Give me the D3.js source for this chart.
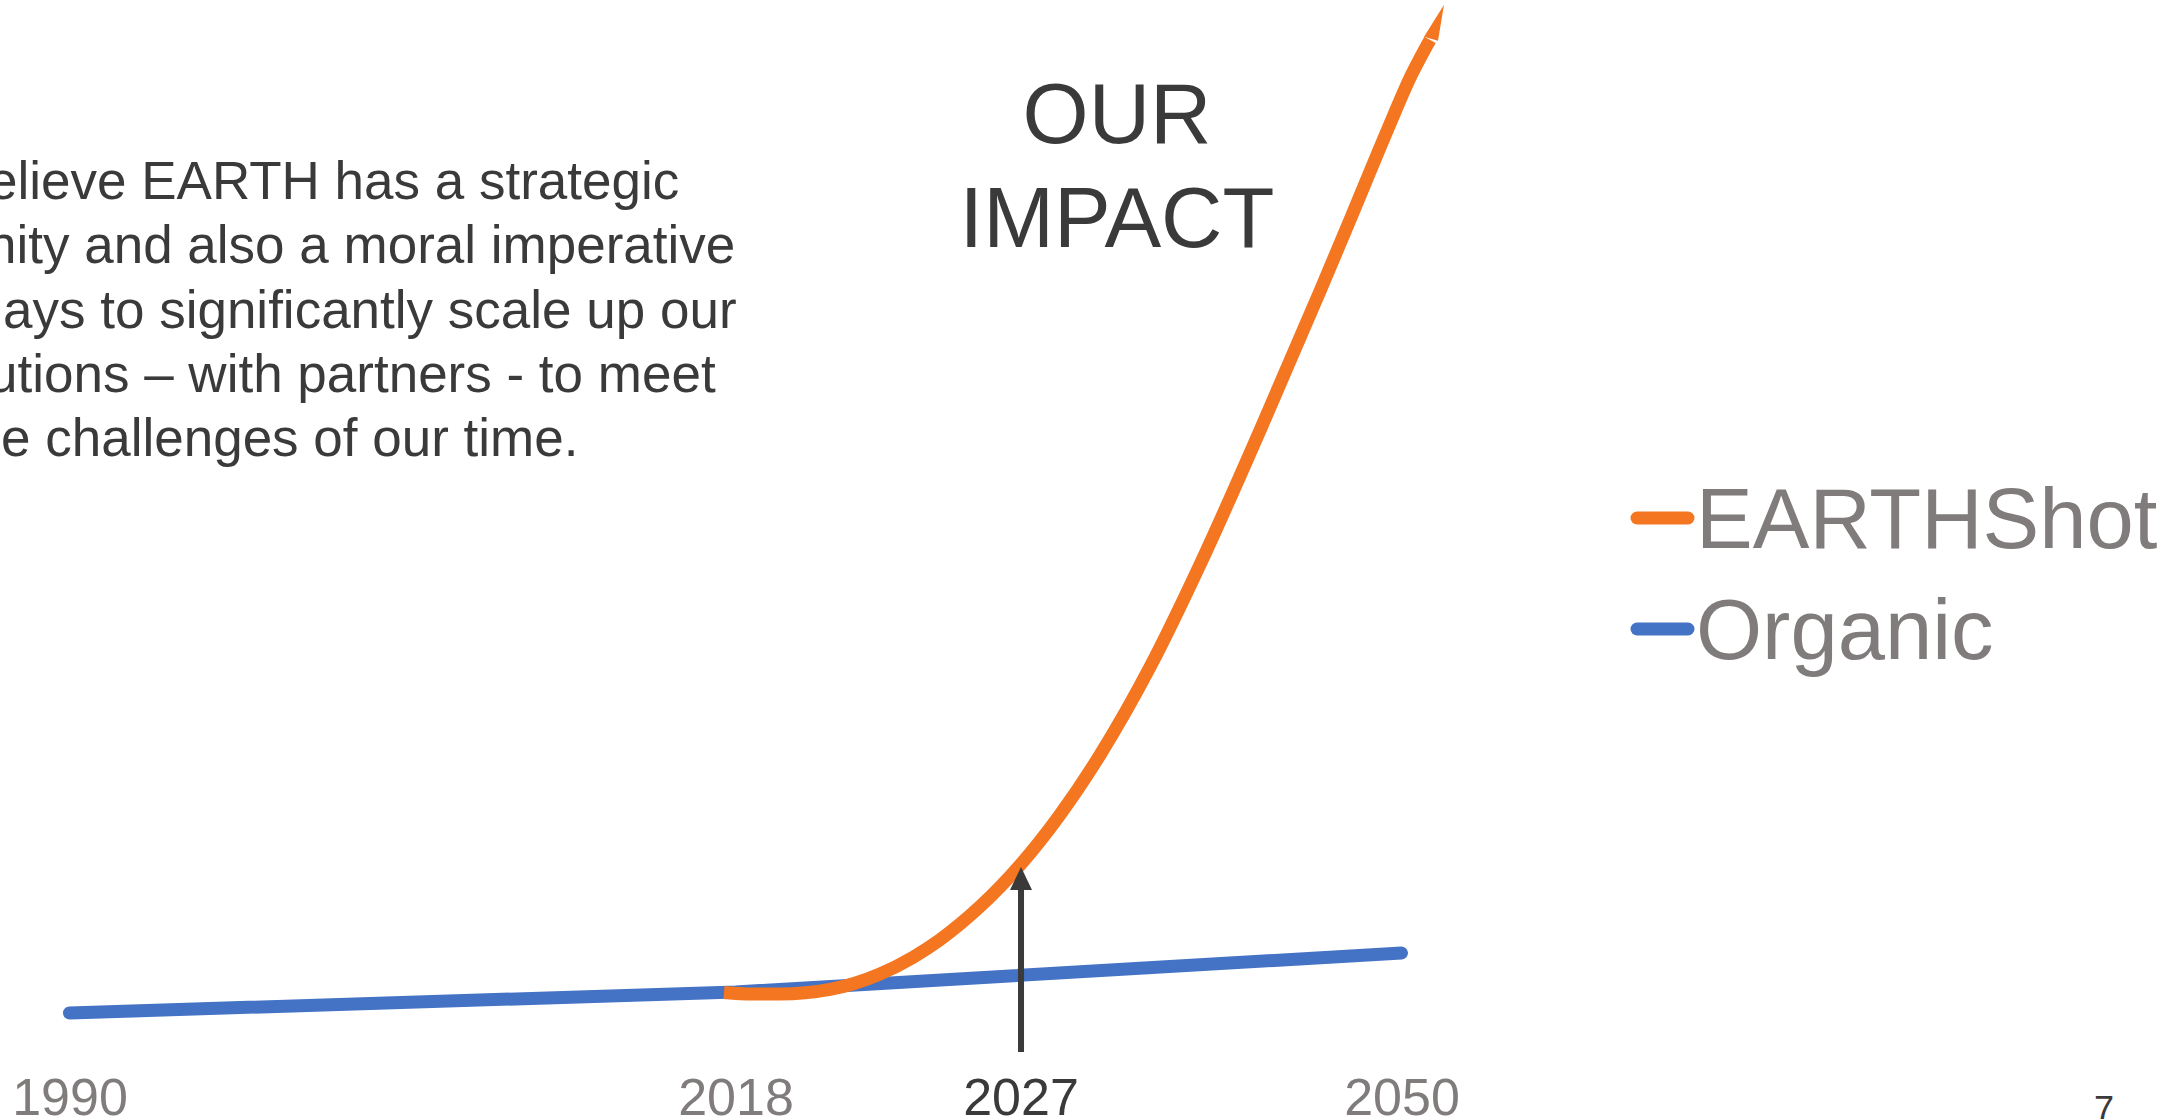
<!DOCTYPE html>
<html>
<head>
<meta charset="utf-8">
<script src="https://cdn.jsdelivr.net/npm/d3@7"></script>
<style>
  html, body { margin: 0; padding: 0; background: #ffffff; overflow: hidden; }
  svg { display: block; }
  text { font-family: "Liberation Sans", Arial, Helvetica, sans-serif; }
</style>
</head>
<body>
<svg id="chart" width="2182" height="1119"></svg>
<script>
// ---------- data ----------
const categories = ["1990", "2018", "2050"];          // category axis labels (positions 0,1,2)
const organicValues = [2.7, 4.8, 8.7];                 // Organic series, one per category
// EARTHShot series: category position and value
const earthshotPos = [0.9827, 1.0248, 1.0668, 1.1419, 1.2170, 1.2665, 1.3070, 1.3671, 1.3971, 1.4287,
                      1.4857, 1.5473, 1.6224, 1.6990, 1.7876, 1.8776, 1.9242, 1.9797, 2.0143, 2.0428];
const earthshotVal = [4.75, 4.6, 4.6, 5.06, 6.6, 8.27, 10.03, 13.34, 15.3, 17.6,
                      22.39, 28.5, 37.29, 47.75, 60.96, 74.87, 82.25, 91.13, 96.42, 100.02];
const seriesNames = ["EARTHShot", "Organic"];
const seriesColors = ["#F47620", "#4472C4"];
const annotationLabel = "2027";
const annotationPos = 1.4287;
const titleLines = ["OUR", "IMPACT"];
const bodyLines = [
  "elieve EARTH has a strategic",
  "nity and also a moral imperative",
  "ays to significantly scale up our",
  "utions \u2013 with partners - to meet",
  "e challenges of our time."
];
const pageNumber = "7";

// ---------- layout ----------
const svg = d3.select("#chart");
const x = d3.scaleLinear().domain([0, 2]).range([69.5, 1401.5]);
const y = d3.scaleLinear().domain([0, 100]).range([1040, 40]);
const dark = "#3b3a3a";
const gray = "#807c7c";

// body text
const bodyOffsets = [-12, -13, 3, -12, 1];
svg.append("g").selectAll("text").data(bodyLines).join("text")
  .attr("x", (d, i) => bodyOffsets[i])
  .attr("y", (d, i) => 199 + i * 64.3)
  .attr("font-size", 53)
  .attr("fill", dark)
  .text(d => d);

// title
svg.append("g").selectAll("text").data(titleLines).join("text")
  .attr("x", 1117)
  .attr("y", (d, i) => 143 + i * 104)
  .attr("text-anchor", "middle")
  .attr("font-size", 85)
  .attr("fill", dark)
  .text(d => d);

// x axis
const axis = d3.axisBottom(x)
  .tickValues(categories.map((c, i) => i))
  .tickFormat(i => categories[i])
  .tickSize(0).tickPadding(0);
const axG = svg.append("g").attr("transform", "translate(0,1078)").call(axis);
axG.select(".domain").remove();
axG.selectAll("text")
  .attr("font-size", 52)
  .attr("fill", gray)
  .style("font-family", '"Liberation Sans", Arial, sans-serif');

// Organic line
const organicData = organicValues.map((v, i) => ({ p: i, v }));
svg.append("path")
  .datum(organicData)
  .attr("fill", "none")
  .attr("stroke", seriesColors[1])
  .attr("stroke-width", 13)
  .attr("stroke-linecap", "round")
  .attr("stroke-linejoin", "round")
  .attr("d", d3.line().x(d => x(d.p)).y(d => y(d.v)));

// EARTHShot curve
const earthData = earthshotPos.map((p, i) => ({ p, v: earthshotVal[i] }));
svg.append("path")
  .datum(earthData)
  .attr("fill", "none")
  .attr("stroke", seriesColors[0])
  .attr("stroke-width", 13)
  .attr("stroke-linecap", "butt")
  .attr("stroke-linejoin", "round")
  .attr("d", d3.line().curve(d3.curveMonotoneX).x(d => x(d.p)).y(d => y(d.v)));

// spike artefact at top end of the curve
const last = earthData[earthData.length - 1];
const lx = x(last.p), ly = y(last.v);
svg.append("path")
  .attr("fill", seriesColors[0])
  .attr("d", `M${lx - 6},${ly - 3} L${lx + 14},${ly - 35} L${lx + 8},${ly + 1} Z`);

// annotation arrow + label
const ax = x(annotationPos);
const tipY = y(earthshotVal[earthshotPos.indexOf(annotationPos)]) + 3;
svg.append("line")
  .attr("x1", ax).attr("x2", ax)
  .attr("y1", 1052).attr("y2", tipY + 20)
  .attr("stroke", dark).attr("stroke-width", 6);
svg.append("path")
  .attr("fill", dark)
  .attr("d", `M${ax},${tipY} L${ax + 11},${tipY + 23} L${ax - 11},${tipY + 23} Z`);
svg.append("text")
  .attr("x", ax).attr("y", 1115)
  .attr("text-anchor", "middle")
  .attr("font-size", 52)
  .attr("fill", dark)
  .text(annotationLabel);

// legend
const lg = svg.append("g").selectAll("g").data(seriesNames).join("g")
  .attr("transform", (d, i) => `translate(0,${i * 111})`);
lg.append("line")
  .attr("x1", 1637).attr("x2", 1688)
  .attr("y1", 518).attr("y2", 518)
  .attr("stroke", (d, i) => seriesColors[i])
  .attr("stroke-width", 13)
  .attr("stroke-linecap", "round");
lg.append("text")
  .attr("x", 1696).attr("y", 548)
  .attr("font-size", 85)
  .attr("fill", gray)
  .text(d => d);

// page number
svg.append("text")
  .attr("x", 2104).attr("y", 1122)
  .attr("text-anchor", "middle")
  .attr("font-size", 36)
  .attr("fill", dark)
  .text(pageNumber);
</script>
</body>
</html>
